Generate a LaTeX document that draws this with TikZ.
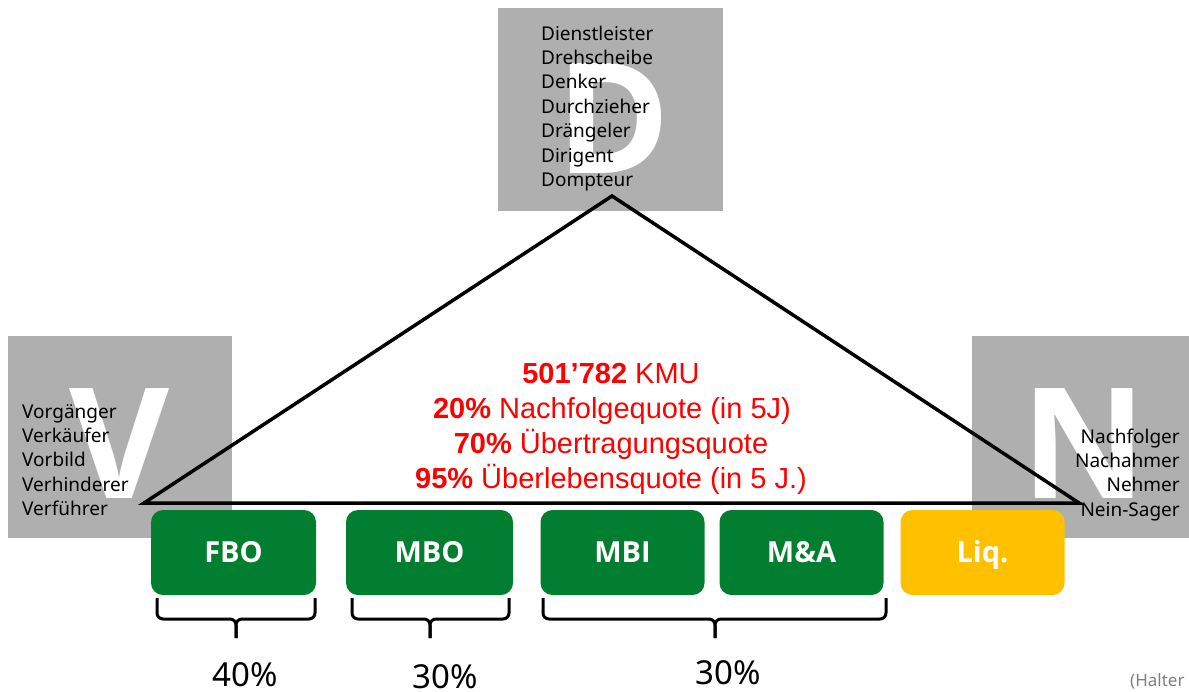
\documentclass[tikz,border=0pt]{standalone}
\usepackage{fontspec}
\setmainfont{Noto Sans}
\newfontfamily\heavyfont{Open Sans}
\newfontfamily\arialfont{Liberation Sans}
\definecolor{panelgray}{RGB}{175,175,175}
\definecolor{optgreen}{RGB}{2,126,49}
\definecolor{optyellow}{RGB}{255,192,0}
\definecolor{quotered}{RGB}{255,0,0}
\definecolor{sourcegray}{RGB}{128,128,128}
\begin{document}
\begin{tikzpicture}[x=1pt,y=-1pt,
  panel/.style={fill=panelgray,draw=none,inner sep=0,outer sep=0},
  bigletter/.style={text=white,font=\heavyfont\fontsize{154}{154}\selectfont\bfseries,anchor=base,inner sep=0},
  role/.style={font=\fontsize{19}{19}\selectfont,inner sep=0,text=black},
  quote/.style={font=\arialfont\fontsize{29}{29}\selectfont,text=quotered,anchor=base,inner sep=0},
  option/.style={rounded corners=12pt,draw=none,text=white,inner sep=0,
    font=\heavyfont\fontsize{29}{29}\selectfont\bfseries,text height=20.8pt,text depth=0pt,
    minimum width=164pt,minimum height=85pt},
  brace/.style={line width=3pt,rounded corners=6pt},
  share/.style={font=\fontsize{33}{33}\selectfont,anchor=base,inner sep=0},
  triangle/.style={line width=3.5pt,line join=miter}
]
\useasboundingbox (0,0) rectangle (1189,691);
\fill[white] (0,0) rectangle (1189,691);

% grey panels with their initial letters
\node[panel,minimum width=225pt,minimum height=203pt] (dpanel) at (610.5,109.5) {};
\node[panel,minimum width=224pt,minimum height=202pt] (vpanel) at (120,437) {};
\node[panel,minimum width=217pt,minimum height=202pt] (npanel) at (1080.5,437) {};
\node[bigletter] (dletter) at (613,173) {D};
\node[bigletter] (vletter) at (120,498) {V};
\node[bigletter] (nletter) at (1084,498) {N};

% roles of the service provider
\foreach \t [count=\i] in {Dienstleister,Drehscheibe,Denker,Durchzieher,Drängeler,Dirigent,Dompteur}
  \node[role,anchor=base west] (drole\i) at (541,{40+24.4*(\i-1)}) {\t};
% roles of the predecessor
\foreach \t [count=\i] in {Vorgänger,Verkäufer,Vorbild,Verhinderer,Verführer}
  \node[role,anchor=base west] (vrole\i) at (22,{418+24.4*(\i-1)}) {\t};
% roles of the successor
\foreach \t [count=\i] in {Nachfolger,Nachahmer,Nehmer,Nein-Sager}
  \node[role,anchor=base east] (nrole\i) at (1180,{443+24.4*(\i-1)}) {\t};

% triangle
\coordinate (apex) at (612,196);
\coordinate (lv) at (144,503);
\coordinate (rv) at (1079,503);
\draw[triangle] (apex) -- (lv) -- (rv) -- cycle;

% key figures
\node[quote] (q1) at (611,383) {\textbf{501’782} KMU};
\node[quote] (q2) at (612,418) {\textbf{20\%} Nachfolgequote (in 5J)};
\node[quote] (q3) at (611,453) {\textbf{70\%} Übertragungsquote};
\node[quote] (q4) at (611,488) {\textbf{95\%} Überlebensquote (in 5 J.)};

% succession options
\node[option,fill=optgreen,minimum width=165pt] (fbo) at (233.5,552.5) {FBO};
\node[option,fill=optgreen,minimum width=167pt] (mbo) at (429.5,552.5) {MBO};
\node[option,fill=optgreen] (mbi) at (622.5,552.5) {MBI};
\node[option,fill=optgreen] (mna) at (801.5,552.5) {M\&A};
\node[option,fill=optyellow] (liq) at (982.5,552.5) {Liq.};

% braces under the options
\coordinate (b1l) at (157,598); \coordinate (b1r) at (315,598);
\coordinate (b1m) at (236,619); \coordinate (b1t) at (236,638);
\draw[brace] (b1l) |- (b1m) -- (b1t);
\draw[brace] (b1r) |- (b1m) -- (b1t);
\coordinate (b2l) at (352,598); \coordinate (b2r) at (509,598);
\coordinate (b2m) at (430,619); \coordinate (b2t) at (430,638);
\draw[brace] (b2l) |- (b2m) -- (b2t);
\draw[brace] (b2r) |- (b2m) -- (b2t);
\coordinate (b3l) at (543,598); \coordinate (b3r) at (886,598);
\coordinate (b3m) at (715,619); \coordinate (b3t) at (715,638);
\draw[brace] (b3l) |- (b3m) -- (b3t);
\draw[brace] (b3r) |- (b3m) -- (b3t);

% shares
\node[share] (s1) at (245,686) {40\%};
\node[share] (s2) at (445,688) {30\%};
\node[share] (s3) at (728,684) {30\%};

% source
\node[font=\fontsize{17}{17}\selectfont,text=sourcegray,anchor=base west,inner sep=0] (src) at (1130,686) {(Halter};
\end{tikzpicture}
\end{document}
